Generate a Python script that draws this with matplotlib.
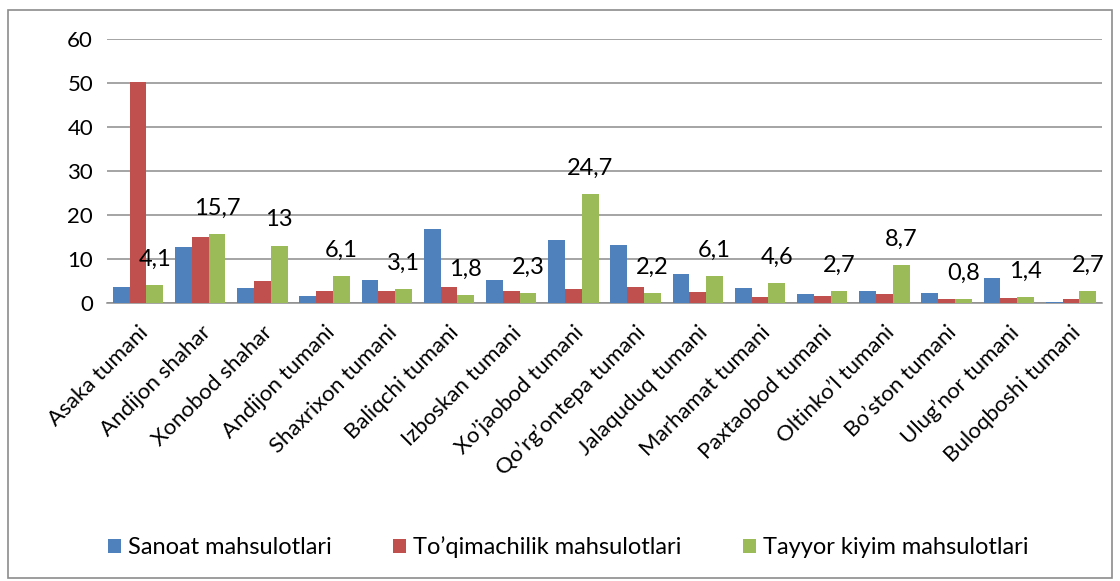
import matplotlib.pyplot as plt
import numpy as np
from matplotlib.patches import Rectangle

plt.rcParams['font.family'] = ['Lato', 'DejaVu Sans']

# Data
tumanlar = ['Asaka tumani', 'Andijon shahar', 'Xonobod shahar', 'Andijon tumani',
            'Shaxrixon tumani', 'Baliqchi tumani', 'Izboskan tumani', 'Xo\u2019jaobod tumani',
            'Qo\u2019rg\u2019ontepa tumani', 'Jalaquduq tumani', 'Marhamat tumani',
            'Paxtaobod tumani', 'Oltinko\u2019l tumani', 'Bo\u2019ston tumani',
            'Ulug\u2019nor tumani', 'Buloqboshi tumani']
sanoat = [3.6, 12.7, 3.3, 1.7, 5.2, 16.9, 5.2, 14.3, 13.2, 6.5, 3.3, 2.0, 2.7, 2.3, 5.7, 0.2]
toqimachilik = [50.3, 14.9, 4.9, 2.7, 2.8, 3.6, 2.7, 3.1, 3.6, 2.4, 1.4, 1.6, 2.0, 0.9, 1.2, 0.9]
tayyor_kiyim = [4.1, 15.7, 13, 6.1, 3.1, 1.8, 2.3, 24.7, 2.2, 6.1, 4.6, 2.7, 8.7, 0.8, 1.4, 2.7]

seriya_nomlari = ['Sanoat mahsulotlari', 'To\u2019qimachilik mahsulotlari', 'Tayyor kiyim mahsulotlari']
ranglar = ['#4F81BD', '#C0504D', '#9BBB59']

fig = plt.figure(figsize=(11.2, 5.81), dpi=100)
ax = fig.add_axes([0.0955, 0.4785, 0.8885, 0.4545])

x = np.arange(len(tumanlar))
w = 0.27
konteynerlar = []
for i, (vals, name, c) in enumerate(zip([sanoat, toqimachilik, tayyor_kiyim], seriya_nomlari, ranglar)):
    b = ax.bar(x + (i - 1) * w, vals, w, color=c, label=name, zorder=3)
    konteynerlar.append(b)

# labels on the green series only
for rect, v in zip(konteynerlar[2], tayyor_kiyim):
    txt = f'{v:g}'.replace('.', ',')
    ax.annotate(txt, (rect.get_x() + rect.get_width() / 2, rect.get_height()),
                xytext=(0, 11), textcoords='offset points', ha='center', va='bottom',
                fontsize=17)

ax.set_ylim(0, 60)
ax.set_xlim(-0.5, len(tumanlar) - 0.5)
ax.set_yticks(range(0, 61, 10))
ax.yaxis.grid(True, color='#8C8C8C', linewidth=1.1, zorder=0)
ax.set_axisbelow(True)
for s in ['top', 'right', 'left']:
    ax.spines[s].set_visible(False)
ax.spines['bottom'].set_color('#8C8C8C')
ax.spines['bottom'].set_linewidth(1.1)
ax.tick_params(axis='both', length=0, labelsize=16)
ax.tick_params(axis='y', pad=10)
ax.set_xticks(x)
ax.set_xticklabels(tumanlar, rotation=45, ha='right', rotation_mode='anchor')
ax.tick_params(axis='x', pad=14)

fig.legend(handles=konteynerlar, labels=seriya_nomlari, loc='center',
           bbox_to_anchor=(0.507, 0.058), ncol=3, frameon=False, fontsize=17,
           handlelength=0.55, handleheight=0.55, handletextpad=0.3, columnspacing=2.6)

fig.patches.append(Rectangle((8 / 1120, 3 / 581), 1104 / 1120, 568 / 581,
                             transform=fig.transFigure, fill=False,
                             edgecolor='#8C8C8C', linewidth=1.2))

plt.savefig('out.png', dpi=100)
